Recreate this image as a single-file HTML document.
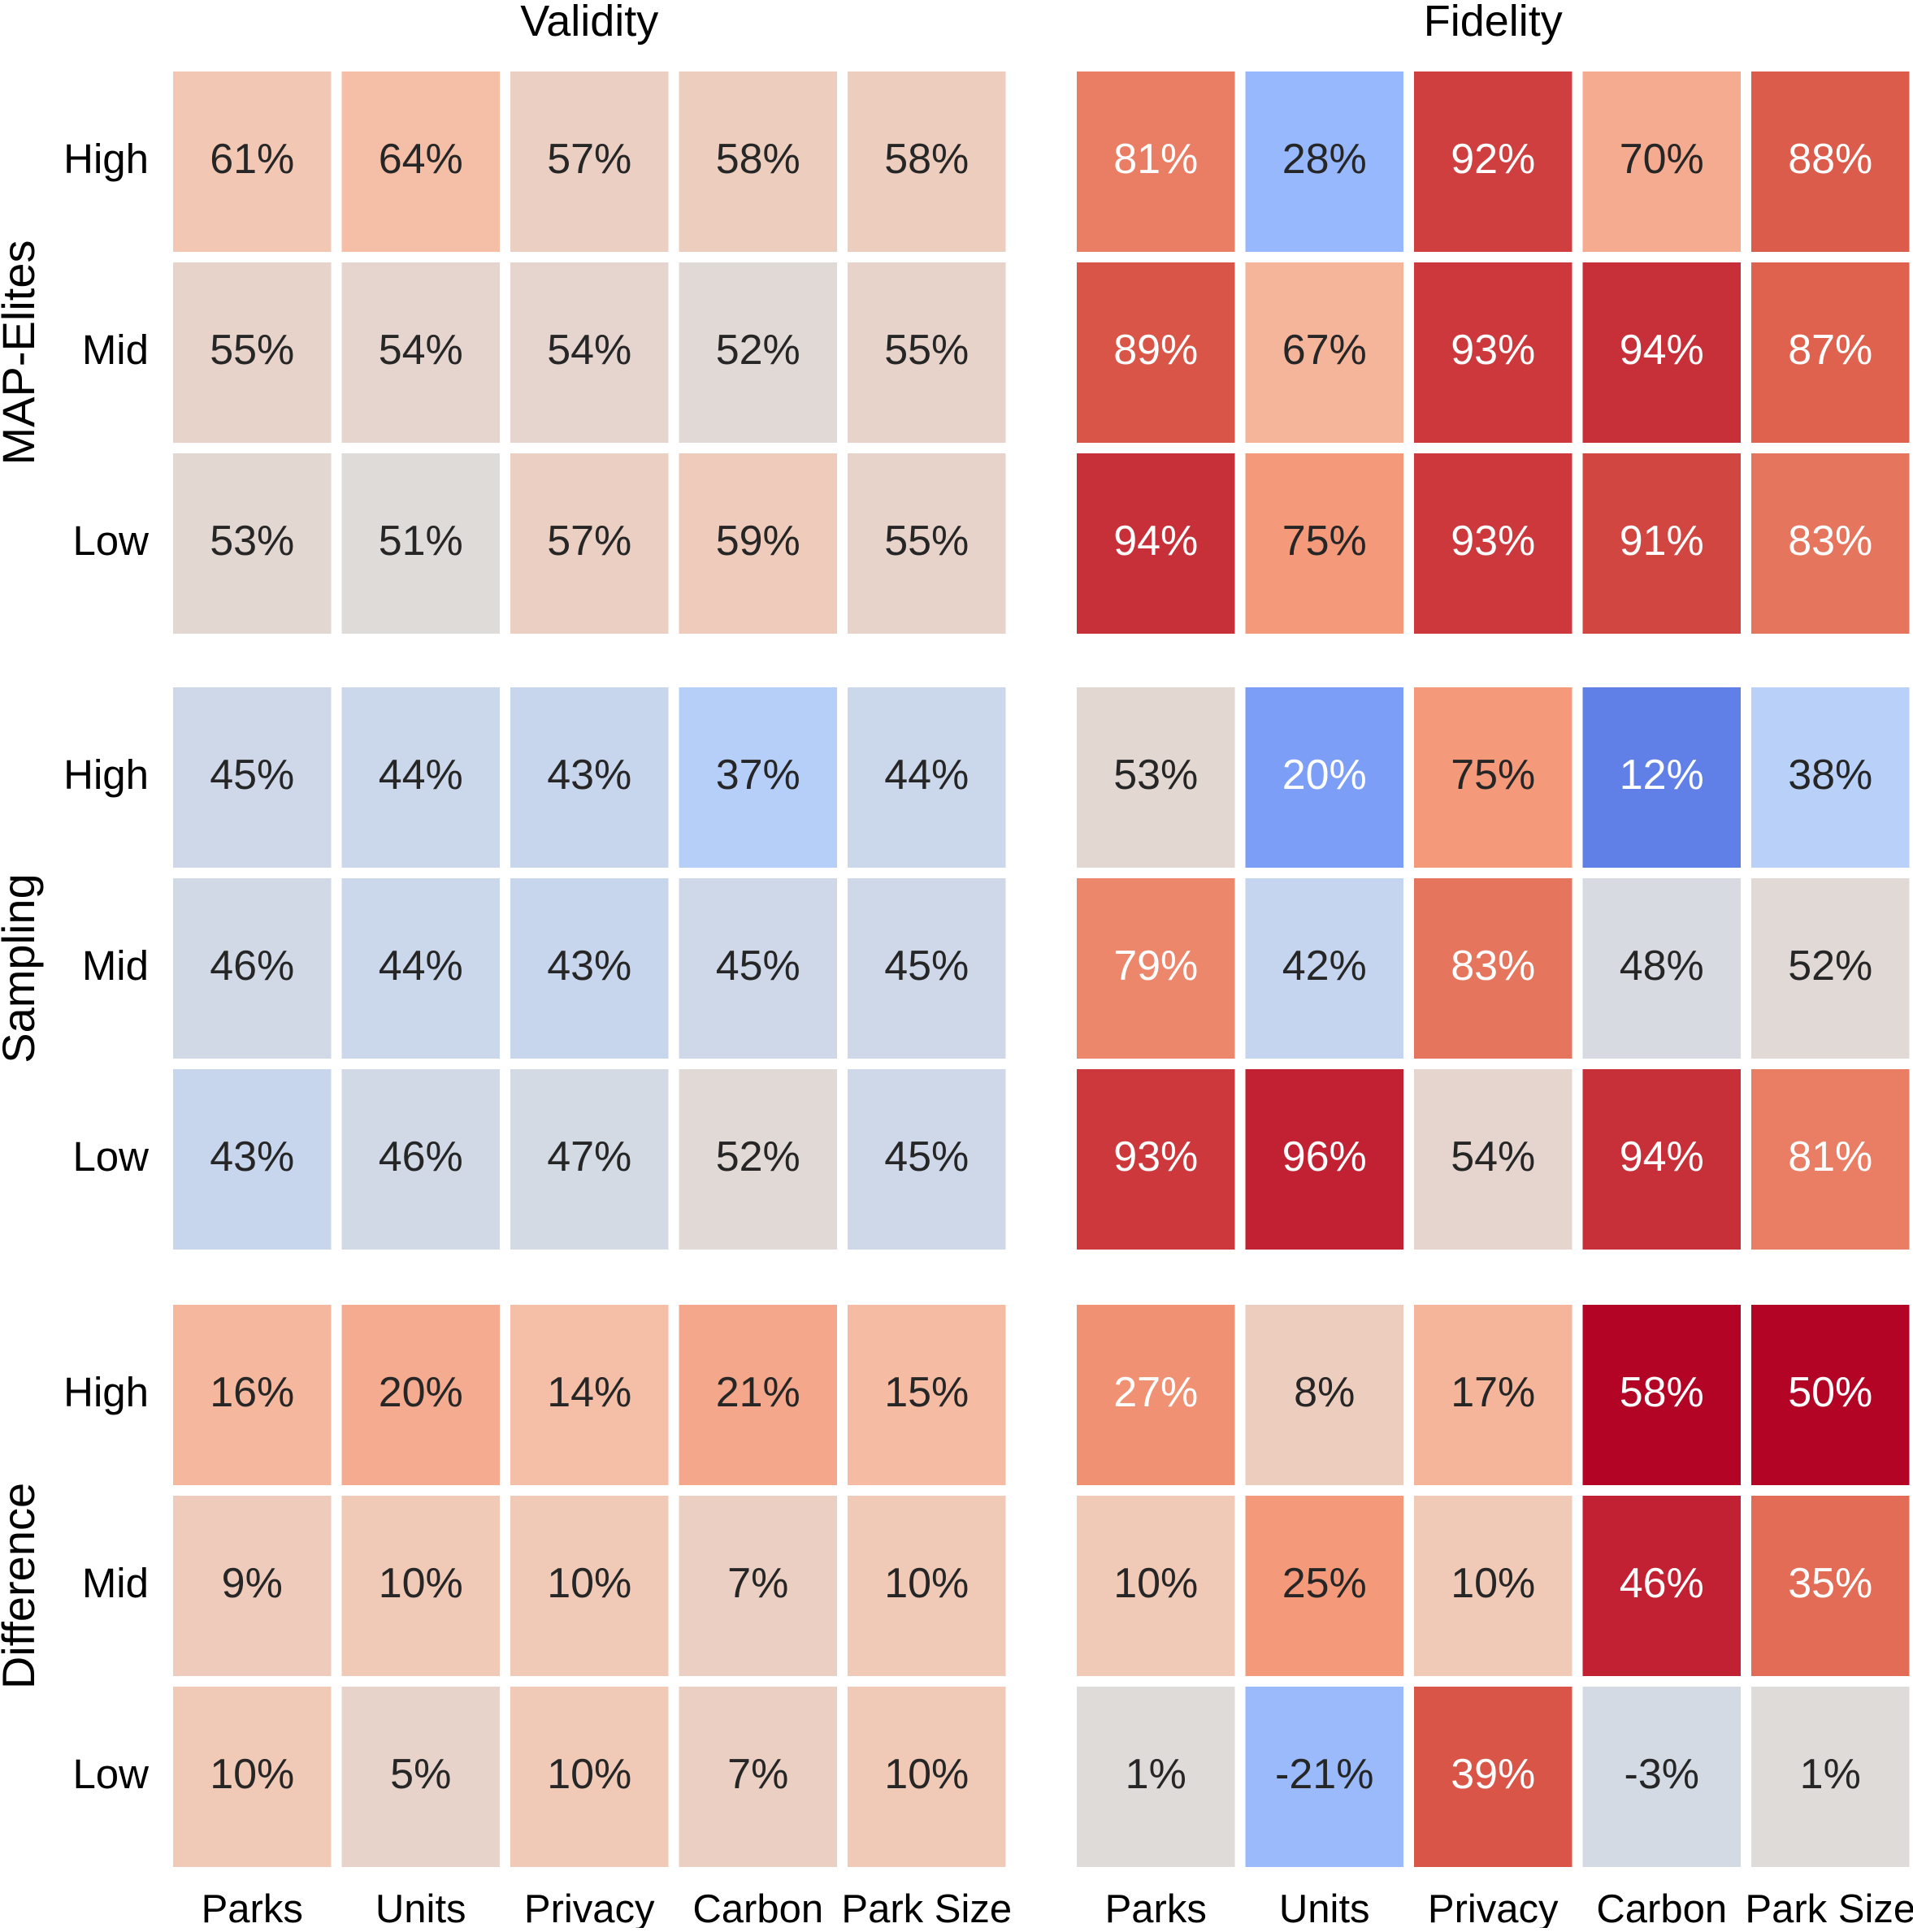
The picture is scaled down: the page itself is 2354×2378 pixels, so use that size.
<!DOCTYPE html>
<html><head><meta charset="utf-8"><style>
body{margin:0;background:#fff}
svg text{font-family:"Liberation Sans",sans-serif}
</style></head><body>
<svg id="chart" width="2354" height="2373" viewBox="0 0 2354 2373" xmlns="http://www.w3.org/2000/svg"></svg>
<script>
const categories = ["Parks","Units","Privacy","Carbon","Park Size"];
const rowLabels = ["High","Mid","Low"];
const groups = ["MAP-Elites","Sampling","Difference"];
const panels = ["Validity","Fidelity"];
const validityMapElites = [[61,64,57,58,58],[55,54,54,52,55],[53,51,57,59,55]];
const validitySampling = [[45,44,43,37,44],[46,44,43,45,45],[43,46,47,52,45]];
const validityDifference = [[16,20,14,21,15],[9,10,10,7,10],[10,5,10,7,10]];
const fidelityMapElites = [[81,28,92,70,88],[89,67,93,94,87],[94,75,93,91,83]];
const fidelitySampling = [[53,20,75,12,38],[79,42,83,48,52],[93,96,54,94,81]];
const fidelityDifference = [[27,8,17,58,50],[10,25,10,46,35],[1,-21,39,-3,1]];

const svg = document.getElementById('chart');
const NS = 'http://www.w3.org/2000/svg';
const stops = [[59,76,192],[98,130,234],[141,176,254],[184,208,249],[221,221,221],[245,196,173],[244,154,123],[222,96,77],[180,4,38]];
function coolwarm(t){
  t=Math.max(0,Math.min(1,t));
  const p=t*8, i=Math.min(7,Math.floor(p)), f=p-i;
  return stops[i].map((c,k)=>Math.round(c+(stops[i+1][k]-c)*f));
}
function lum(c){
  const l=c.map(v=>{v/=255;return v<=0.03928?v/12.92:Math.pow((v+0.055)/1.055,2.4);});
  return 0.2126*l[0]+0.7152*l[1]+0.0722*l[2];
}
const panelX0 = [213,1325], colPitch = 207.5, cellW = 194.5;
const blockY0 = [88,846,1606], rowPitch = 235, cellH = 222;
function xPos(p,c){return panelX0[p]+c*colPitch;}
function yPos(g,r){return blockY0[g]+r*rowPitch;}
function mk(tag,attrs,txt){const e=document.createElementNS(NS,tag);for(const k in attrs)e.setAttribute(k,attrs[k]);if(txt!==undefined)e.textContent=txt;svg.appendChild(e);return e;}

const data = [[validityMapElites,validitySampling,validityDifference],[fidelityMapElites,fidelitySampling,fidelityDifference]];
for(let p=0;p<2;p++){
  for(let g=0;g<3;g++){
    const m=data[p][g];
    for(let r=0;r<3;r++)for(let c=0;c<5;c++){
      const v=m[r][c];
      const t = g===2 ? (v/100+0.5) : v/100;
      const col=coolwarm(t);
      const rect=mk('rect',{x:xPos(p,c),y:yPos(g,r),width:cellW,height:cellH,fill:`rgb(${col})`});
      
      
      const tx=mk('text',{x:xPos(p,c)+cellW/2,y:yPos(g,r)+cellH/2+14,'text-anchor':'middle','font-size':52,fill:lum(col)<0.408?'#ffffff':'#262626'},v+'%');
      
      
    }
  }
  const tt=mk('text',{x:xPos(p,0)+(4*colPitch+cellW)/2,y:44,'text-anchor':'middle','font-size':54,fill:'#000'},panels[p]);
  
  
  for(let c=0;c<5;c++){
    const lb=mk('text',{x:xPos(p,c)+cellW/2,y:2366,'text-anchor':'middle','font-size':49,fill:'#000'},categories[c]);
    
    
  }
}
for(let g=0;g<3;g++){
  for(let r=0;r<3;r++){
    const lb=mk('text',{x:183,y:yPos(g,r)+cellH/2+14,'text-anchor':'end','font-size':51,fill:'#000'},rowLabels[r]);
    
    
  }
  const cy=blockY0[g]+(2*rowPitch+cellH)/2;
  const gt=mk('text',{x:0,y:0,'text-anchor':'middle','font-size':56,fill:'#000',transform:`translate(42,${cy}) rotate(-90)`},groups[g]);
  
  
}
</script>
</body></html>
